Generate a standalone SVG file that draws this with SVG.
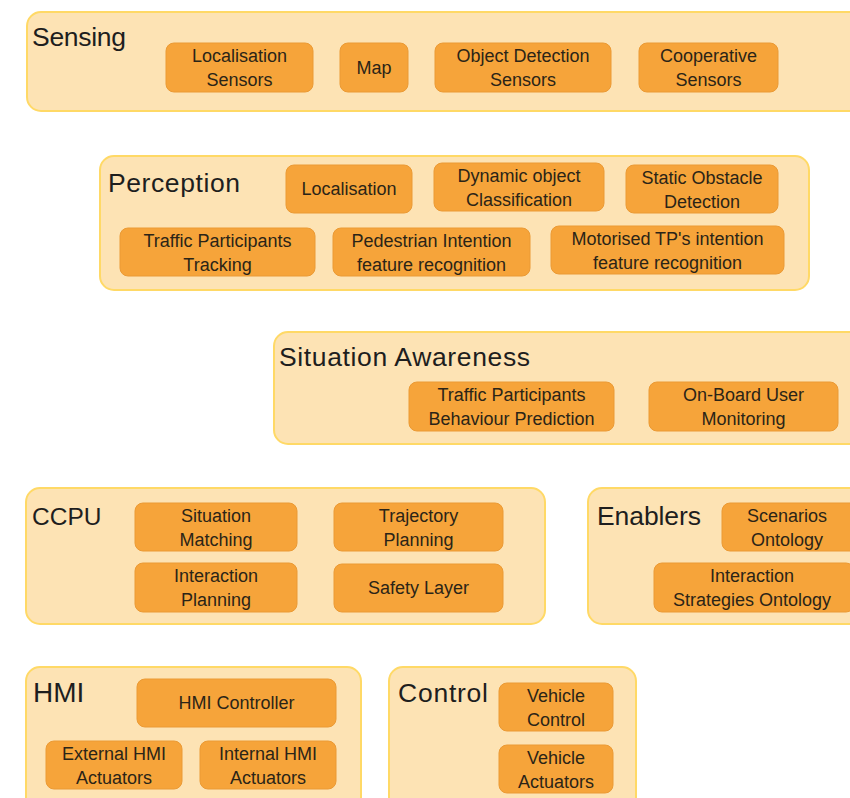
<svg xmlns="http://www.w3.org/2000/svg" width="850" height="798" viewBox="0 0 850 798">
<style>
.grp{fill:#FDE3B4;stroke:#FFD966;stroke-width:2}
.box{fill:#F6A43A;stroke:#EB9A34;stroke-width:1}
.t{font-family:"Liberation Sans",Arial,sans-serif;font-size:18px;fill:#2B2417;text-anchor:middle}
.h{font-family:"Liberation Sans",Arial,sans-serif;font-size:26.5px;fill:#1E1E1E}
</style>
<rect width="850" height="798" fill="#FFFFFF"/>
<g id="sensing">
<rect class="grp" x="27" y="12" width="850" height="99" rx="14"/>
<text class="h" x="32" y="46" textLength="94">Sensing</text>
<g id="localisation-sensors"><rect class="box" x="166" y="43" width="147" height="49" rx="8"/><text class="t" x="239.5" y="62">Localisation</text><text class="t" x="239.5" y="86">Sensors</text></g>
<g id="map"><rect class="box" x="340" y="43" width="68" height="49" rx="8"/><text class="t" x="374" y="74">Map</text></g>
<g id="object-detection-sensors"><rect class="box" x="435" y="43" width="176" height="49" rx="8"/><text class="t" x="523" y="62">Object Detection</text><text class="t" x="523" y="86">Sensors</text></g>
<g id="cooperative-sensors"><rect class="box" x="639" y="43" width="139" height="49" rx="8"/><text class="t" x="708.5" y="62">Cooperative</text><text class="t" x="708.5" y="86">Sensors</text></g>
</g>
<g id="perception">
<rect class="grp" x="100" y="156" width="709" height="134" rx="14"/>
<text class="h" x="108" y="192" textLength="132">Perception</text>
<g id="localisation"><rect class="box" x="286" y="165" width="126" height="48" rx="8"/><text class="t" x="349" y="195">Localisation</text></g>
<g id="dynamic-object-classification"><rect class="box" x="434" y="163" width="170" height="48" rx="8"/><text class="t" x="519" y="182">Dynamic object</text><text class="t" x="519" y="206">Classification</text></g>
<g id="static-obstacle-detection"><rect class="box" x="626" y="165" width="152" height="48" rx="8"/><text class="t" x="702" y="184">Static Obstacle</text><text class="t" x="702" y="208">Detection</text></g>
<g id="tp-tracking"><rect class="box" x="120" y="228" width="195" height="48" rx="8"/><text class="t" x="217.5" y="247">Traffic Participants</text><text class="t" x="217.5" y="271">Tracking</text></g>
<g id="pedestrian-intention"><rect class="box" x="333" y="228" width="197" height="48" rx="8"/><text class="t" x="431.5" y="247">Pedestrian Intention</text><text class="t" x="431.5" y="271">feature recognition</text></g>
<g id="motorised-intention"><rect class="box" x="551" y="226" width="233" height="48" rx="8"/><text class="t" x="667.5" y="245">Motorised TP's intention</text><text class="t" x="667.5" y="269">feature recognition</text></g>
</g>
<g id="situation-awareness">
<rect class="grp" x="274" y="332" width="600" height="112" rx="14"/>
<text class="h" x="279" y="366" textLength="251">Situation Awareness</text>
<g id="tp-behaviour-prediction"><rect class="box" x="409" y="382" width="205" height="49" rx="8"/><text class="t" x="511.5" y="401">Traffic Participants</text><text class="t" x="511.5" y="425">Behaviour Prediction</text></g>
<g id="onboard-user-monitoring"><rect class="box" x="649" y="382" width="189" height="49" rx="8"/><text class="t" x="743.5" y="401">On-Board User</text><text class="t" x="743.5" y="425">Monitoring</text></g>
</g>
<g id="ccpu">
<rect class="grp" x="26" y="488" width="519" height="136" rx="14"/>
<text class="h" x="32" y="525" style="font-size:24.5px">CCPU</text>
<g id="situation-matching"><rect class="box" x="135" y="503" width="162" height="48" rx="8"/><text class="t" x="216" y="522">Situation</text><text class="t" x="216" y="546">Matching</text></g>
<g id="trajectory-planning"><rect class="box" x="334" y="503" width="169" height="48" rx="8"/><text class="t" x="418.5" y="522">Trajectory</text><text class="t" x="418.5" y="546">Planning</text></g>
<g id="interaction-planning"><rect class="box" x="135" y="563" width="162" height="49" rx="8"/><text class="t" x="216" y="582">Interaction</text><text class="t" x="216" y="606">Planning</text></g>
<g id="safety-layer"><rect class="box" x="334" y="564" width="169" height="48" rx="8"/><text class="t" x="418.5" y="594">Safety Layer</text></g>
</g>
<g id="enablers">
<rect class="grp" x="588" y="488" width="290" height="136" rx="14"/>
<text class="h" x="597" y="525" textLength="104">Enablers</text>
<g id="scenarios-ontology"><rect class="box" x="722" y="503" width="140" height="48" rx="8"/><text class="t" x="787" y="522">Scenarios</text><text class="t" x="787" y="546">Ontology</text></g>
<g id="interaction-strategies-ontology"><rect class="box" x="654" y="563" width="200" height="49" rx="8"/><text class="t" x="752" y="582">Interaction</text><text class="t" x="752" y="606">Strategies Ontology</text></g>
</g>
<g id="hmi">
<rect class="grp" x="26" y="667" width="335" height="150" rx="14"/>
<text class="h" x="33" y="702" style="font-size:28px">HMI</text>
<g id="hmi-controller"><rect class="box" x="137" y="679" width="199" height="48" rx="8"/><text class="t" x="236.5" y="709">HMI Controller</text></g>
<g id="external-hmi-actuators"><rect class="box" x="46" y="741" width="136" height="48" rx="8"/><text class="t" x="114" y="760">External HMI</text><text class="t" x="114" y="784">Actuators</text></g>
<g id="internal-hmi-actuators"><rect class="box" x="200" y="741" width="136" height="48" rx="8"/><text class="t" x="268" y="760">Internal HMI</text><text class="t" x="268" y="784">Actuators</text></g>
</g>
<g id="control">
<rect class="grp" x="389" y="667" width="247" height="150" rx="14"/>
<text class="h" x="398" y="702" textLength="90">Control</text>
<g id="vehicle-control"><rect class="box" x="499" y="683" width="114" height="48" rx="8"/><text class="t" x="556" y="702">Vehicle</text><text class="t" x="556" y="726">Control</text></g>
<g id="vehicle-actuators"><rect class="box" x="499" y="745" width="114" height="48" rx="8"/><text class="t" x="556" y="764">Vehicle</text><text class="t" x="556" y="788">Actuators</text></g>
</g>
<g id="connectors"></g>
</svg>
